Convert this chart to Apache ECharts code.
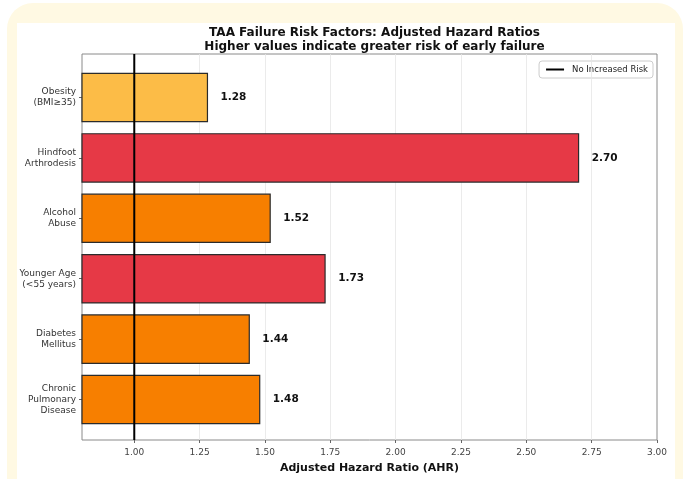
<!DOCTYPE html>
<html>
<head>
<meta charset="utf-8">
<script src="https://cdn.jsdelivr.net/npm/echarts@6/dist/echarts.min.js"></script>
<style>
  html, body { margin: 0; padding: 0; background: #ffffff; overflow: hidden; }
  #frame { position: absolute; left: 7px; top: 3px; width: 676px; height: 520px; background: #fff9e3; border-radius: 26px; }
  #panel { position: absolute; left: 17px; top: 23px; width: 658px; height: 480px; background: #ffffff; }
  #chart { position: absolute; left: 0; top: 0; width: 685px; height: 479px; }
</style>
</head>
<body>
<div id="frame"></div>
<div id="panel"></div>
<div id="chart"></div>
<script>
// Risk factors, listed top to bottom
const categories = [
  'Obesity\n(BMI\u226535)',
  'Hindfoot\nArthrodesis',
  'Alcohol\nAbuse',
  'Younger Age\n(<55 years)',
  'Diabetes\nMellitus',
  'Chronic\nPulmonary\nDisease'
];
// Adjusted hazard ratios
const hazardRatios = [1.28, 2.70, 1.52, 1.73, 1.44, 1.48];
// Bar fill per factor
const barColors = ['#fcbc47', '#e63946', '#f77f00', '#e63946', '#f77f00', '#f77f00'];
// X axis tick values
const xTicks = [1.00, 1.25, 1.50, 1.75, 2.00, 2.25, 2.50, 2.75, 3.00];
const xMin = 0.8, xMax = 3.0;
const yMin = -0.72, yMax = categories.length - 1 + 0.67;
const refValue = 1.0;

const chart = echarts.init(document.getElementById('chart'), null, { renderer: 'canvas' });
const FONT = 'DejaVu Sans';

const barData = hazardRatios.map((v, i) => [i, v]);

chart.setOption({
  backgroundColor: 'transparent',
  animation: false,
  textStyle: { fontFamily: FONT },
  title: {
    text: 'TAA Failure Risk Factors: Adjusted Hazard Ratios\nHigher values indicate greater risk of early failure',
    left: 369.5,
    textAlign: 'center',
    top: 21,
    textStyle: { fontFamily: FONT, fontSize: 12, fontWeight: 'bold', lineHeight: 14, color: '#111' }
  },
  legend: {
    data: [{ name: 'No Increased Risk', icon: 'rect' }],
    right: 32,
    top: 61,
    backgroundColor: '#ffffff',
    borderColor: '#cccccc',
    borderWidth: 1,
    borderRadius: 3,
    padding: [4, 5, 4, 7],
    itemWidth: 18,
    itemHeight: 2,
    itemGap: 4,
    textStyle: { fontFamily: FONT, fontSize: 8.5, color: '#222', padding: [0, 0, 0, 3] }
  },
  grid: {
    left: 82, right: 28, top: 54, bottom: 36,
    show: true, borderColor: '#8a8a8a', borderWidth: 1, backgroundColor: 'transparent'
  },
  xAxis: {
    type: 'value',
    min: xMin, max: xMax,
    name: 'Adjusted Hazard Ratio (AHR)',
    nameLocation: 'middle',
    nameGap: 23,
    nameTextStyle: { fontFamily: FONT, fontSize: 11, fontWeight: 'bold', color: '#111' },
    axisLine: { show: false, onZero: false },
    axisTick: { show: true, customValues: xTicks, length: 3, lineStyle: { color: '#666' } },
    axisLabel: {
      customValues: xTicks,
      formatter: v => v.toFixed(2),
      fontFamily: FONT, fontSize: 9, color: '#444', margin: 8
    },
    splitLine: { show: false }
  },
  yAxis: {
    type: 'value',
    inverse: true,
    min: yMin, max: yMax,
    axisLine: { show: false, onZero: false },
    axisTick: { show: true, customValues: categories.map((c, i) => i), length: 3, lineStyle: { color: '#666' } },
    axisLabel: {
      customValues: categories.map((c, i) => i),
      formatter: v => categories[Math.round(v)] || '',
      fontFamily: FONT, fontSize: 9, lineHeight: 11, color: '#333', margin: 6, align: 'right'
    },
    splitLine: { show: false }
  },
  series: [
    {
      // light vertical grid lines at the x tick positions
      type: 'line',
      name: 'grid',
      data: [],
      z: 1,
      silent: true,
      markLine: {
        silent: true,
        symbol: 'none',
        label: { show: false },
        lineStyle: { color: '#e6e6e6', width: 0.8, type: 'solid' },
        data: xTicks.slice(1, -1).map(v => ({ xAxis: v }))
      }
    },
    {
      type: 'custom',
      name: 'AHR',
      z: 10,
      encode: { x: 1, y: 0 },
      data: barData,
      renderItem: function (params, api) {
        const i = api.value(0);
        const v = api.value(1);
        const p0 = api.coord([xMin, i - 0.4]);
        const p1 = api.coord([v, i + 0.4]);
        const pl = api.coord([v + 0.05, i]);
        return {
          type: 'group',
          children: [
            {
              type: 'rect',
              shape: {
                x: p0[0], y: Math.min(p0[1], p1[1]),
                width: p1[0] - p0[0], height: Math.abs(p1[1] - p0[1])
              },
              style: { fill: barColors[params.dataIndex], stroke: '#2b2b2b', lineWidth: 1.2 }
            },
            {
              type: 'text',
              x: pl[0], y: pl[1],
              style: {
                text: v.toFixed(2),
                fontFamily: FONT, fontSize: 10.5, fontWeight: 'bold', fill: '#111',
                align: 'left', verticalAlign: 'middle'
              }
            }
          ]
        };
      }
    },
    {
      type: 'line',
      name: 'No Increased Risk',
      z: 12,
      symbol: 'none',
      data: [[refValue, yMin], [refValue, yMax]],
      lineStyle: { color: '#000000', width: 2 },
      itemStyle: { color: '#000000' }
    }
  ]
});
</script>
</body>
</html>
